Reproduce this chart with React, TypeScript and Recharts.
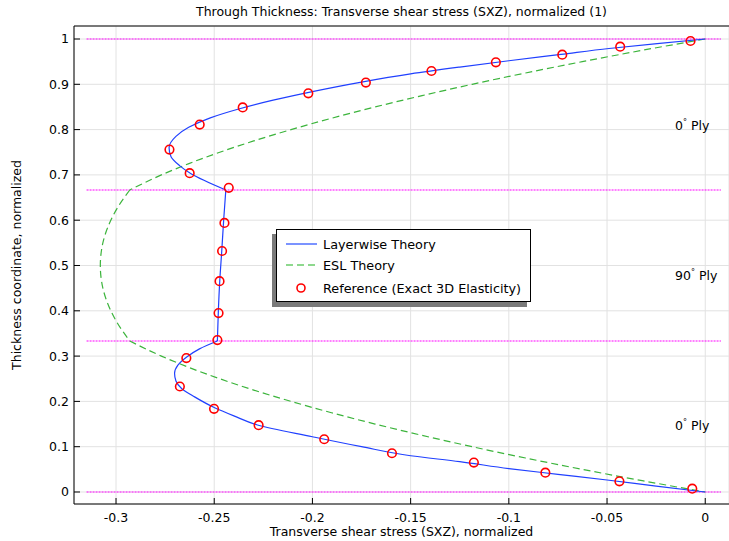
import { ComposedChart, Line, Scatter, XAxis, YAxis, CartesianGrid } from 'recharts';

const xTicks = [-0.3, -0.25, -0.2, -0.15, -0.1, -0.05, 0];
const yTicks = [0, 0.1, 0.2, 0.3, 0.4, 0.5, 0.6, 0.7, 0.8, 0.9, 1];

// Layerwise theory, one array per ply (top ply first), points ordered top -> bottom
const layerwiseTop = [
  { x: 0, y: 1 },
  { x: -0.0245, y: 0.99 },
  { x: -0.049, y: 0.979 },
  { x: -0.0735, y: 0.966 },
  { x: -0.1, y: 0.952 },
  { x: -0.125, y: 0.938 },
  { x: -0.15, y: 0.923 },
  { x: -0.175, y: 0.905 },
  { x: -0.2, y: 0.884 },
  { x: -0.22, y: 0.865 },
  { x: -0.238, y: 0.845 },
  { x: -0.252, y: 0.826 },
  { x: -0.263, y: 0.805 },
  { x: -0.2695, y: 0.785 },
  { x: -0.273, y: 0.76 },
  { x: -0.272, y: 0.74 },
  { x: -0.2675, y: 0.72 },
  { x: -0.262, y: 0.703 },
  { x: -0.2441, y: 0.6667 },
];
const layerwiseMid = [
  { x: -0.2441, y: 0.6667 },
  { x: -0.2452, y: 0.6 },
  { x: -0.2462, y: 0.53 },
  { x: -0.2472, y: 0.465 },
  { x: -0.2479, y: 0.4 },
  { x: -0.2484, y: 0.3333 },
];
const layerwiseBottom = [
  { x: -0.2484, y: 0.3333 },
  { x: -0.2575, y: 0.316 },
  { x: -0.264, y: 0.298 },
  { x: -0.2685, y: 0.28 },
  { x: -0.2702, y: 0.262 },
  { x: -0.2695, y: 0.245 },
  { x: -0.2665, y: 0.228 },
  { x: -0.26, y: 0.21 },
  { x: -0.25, y: 0.1865 },
  { x: -0.24, y: 0.168 },
  { x: -0.228, y: 0.148 },
  { x: -0.2, y: 0.122 },
  { x: -0.175, y: 0.1 },
  { x: -0.15, y: 0.08 },
  { x: -0.125, y: 0.067 },
  { x: -0.1, y: 0.0516 },
  { x: -0.075, y: 0.039 },
  { x: -0.05, y: 0.0265 },
  { x: -0.025, y: 0.013 },
  { x: 0, y: 0 },
];

// ESL theory
const eslTop = [
  { x: 0, y: 1 },
  { x: -0.0321, y: 0.975 },
  { x: -0.0626, y: 0.95 },
  { x: -0.0915, y: 0.925 },
  { x: -0.1187, y: 0.9 },
  { x: -0.1442, y: 0.875 },
  { x: -0.1681, y: 0.85 },
  { x: -0.1903, y: 0.825 },
  { x: -0.2109, y: 0.8 },
  { x: -0.2299, y: 0.775 },
  { x: -0.2472, y: 0.75 },
  { x: -0.2629, y: 0.725 },
  { x: -0.2769, y: 0.7 },
  { x: -0.293, y: 0.6667 },
];
const eslMid = [
  { x: -0.293, y: 0.6667 },
  { x: -0.2996, y: 0.625 },
  { x: -0.3043, y: 0.5833 },
  { x: -0.3067, y: 0.55 },
  { x: -0.308, y: 0.5 },
  { x: -0.3067, y: 0.45 },
  { x: -0.3043, y: 0.4167 },
  { x: -0.2996, y: 0.375 },
  { x: -0.293, y: 0.3333 },
];
const eslBottom = [
  { x: -0.293, y: 0.3333 },
  { x: -0.2769, y: 0.3 },
  { x: -0.2629, y: 0.275 },
  { x: -0.2472, y: 0.25 },
  { x: -0.2299, y: 0.225 },
  { x: -0.2109, y: 0.2 },
  { x: -0.1903, y: 0.175 },
  { x: -0.1681, y: 0.15 },
  { x: -0.1442, y: 0.125 },
  { x: -0.1187, y: 0.1 },
  { x: -0.0915, y: 0.075 },
  { x: -0.0626, y: 0.05 },
  { x: -0.0321, y: 0.025 },
  { x: 0, y: 0 },
];

// Reference (exact 3D elasticity)
const referencePoints = [
  { x: -0.0075, y: 0.9956 },
  { x: -0.0433, y: 0.983 },
  { x: -0.0728, y: 0.9654 },
  { x: -0.1066, y: 0.9485 },
  { x: -0.1394, y: 0.9294 },
  { x: -0.1728, y: 0.9037 },
  { x: -0.2021, y: 0.88 },
  { x: -0.2355, y: 0.849 },
  { x: -0.2574, y: 0.811 },
  { x: -0.2728, y: 0.756 },
  { x: -0.2625, y: 0.7037 },
  { x: -0.2426, y: 0.6715 },
  { x: -0.2448, y: 0.594 },
  { x: -0.246, y: 0.532 },
  { x: -0.2473, y: 0.4654 },
  { x: -0.2478, y: 0.3949 },
  { x: -0.2484, y: 0.3353 },
  { x: -0.2642, y: 0.2956 },
  { x: -0.2675, y: 0.2329 },
  { x: -0.2501, y: 0.1835 },
  { x: -0.2274, y: 0.1474 },
  { x: -0.194, y: 0.1164 },
  { x: -0.1595, y: 0.0855 },
  { x: -0.1178, y: 0.0649 },
  { x: -0.0814, y: 0.0427 },
  { x: -0.0437, y: 0.0236 },
  { x: -0.0066, y: 0.0074 },
];

// ply interfaces (dotted magenta) and their horizontal extent
const plyInterfaces = [0, 1 / 3, 2 / 3, 1];
const interfaceSpan = [-0.315, 0.008];

const plyLabels = [
  { angle: '0', top: 126 },
  { angle: '90', top: 276 },
  { angle: '0', top: 426 },
];

const font = '"DejaVu Sans", sans-serif';
const blue = '#2040ff';
const green = '#3cb43c';
const red = '#ff0000';

const RefCircle = (props: any) => (
  <circle cx={props.cx} cy={props.cy} r={4.3} fill="none" stroke={red} strokeWidth={1.6} />
);

export default function App() {
  const interfaceLines = plyInterfaces.map((v) => interfaceSpan.map((x) => ({ x, y: v })));
  const tickStyle = { fill: '#000', fontSize: 12.5, fontFamily: font };

  return (
    <div style={{ position: 'absolute', left: 0, top: 0, width: 729, height: 541, background: '#fff', fontFamily: font, overflow: 'hidden' }}>
      <ComposedChart width={729} height={541} margin={{ top: 25, right: 0, bottom: 0, left: 0 }}>
        <CartesianGrid stroke="#e2e2e2" />
        <XAxis
          xAxisId="top"
          orientation="top"
          type="number"
          dataKey="x"
          domain={[-0.3214, 0.0121]}
          allowDataOverflow
          ticks={xTicks}
          height={1}
          tick={false}
          tickSize={-6}
          stroke="#000"
        />
        <XAxis
          type="number"
          dataKey="x"
          domain={[-0.3214, 0.0121]}
          allowDataOverflow
          ticks={xTicks}
          height={37}
          tickSize={-6}
          tickMargin={15}
          tick={tickStyle}
          stroke="#000"
        />
        <YAxis
          type="number"
          dataKey="y"
          domain={[-0.0265, 1.0287]}
          allowDataOverflow
          ticks={yTicks}
          width={74}
          tickSize={-6}
          tickMargin={11}
          tick={tickStyle}
          stroke="#000"
        />
        {interfaceLines.map((d, i) => (
          <Line
            key={`ply-${i}`}
            data={d}
            dataKey="y"
            type="linear"
            stroke="#ff00ff"
            strokeWidth={1.2}
            strokeDasharray="2 1"
            dot={false}
            activeDot={false}
            isAnimationActive={false}
          />
        ))}
        {[eslTop, eslMid, eslBottom].map((d, i) => (
          <Line
            key={`esl-${i}`}
            data={d}
            dataKey="y"
            type="monotoneY"
            stroke={green}
            strokeWidth={1.2}
            strokeDasharray="7 4"
            dot={false}
            activeDot={false}
            isAnimationActive={false}
          />
        ))}
        {[layerwiseTop, layerwiseMid, layerwiseBottom].map((d, i) => (
          <Line
            key={`lw-${i}`}
            data={d}
            dataKey="y"
            type="monotoneY"
            stroke={blue}
            strokeWidth={1.2}
            dot={false}
            activeDot={false}
            isAnimationActive={false}
          />
        ))}
        <Scatter data={referencePoints} dataKey="y" shape={RefCircle} isAnimationActive={false} />
      </ComposedChart>

      <div style={{ position: 'absolute', left: 74, width: 655, top: 4, textAlign: 'center', fontSize: 12.5, color: '#000' }}>
        Through Thickness: Transverse shear stress (SXZ), normalized (1)
      </div>
      <div style={{ position: 'absolute', left: 74, width: 655, top: 524, textAlign: 'center', fontSize: 12.5, lineHeight: '15px', color: '#000' }}>
        Transverse shear stress (SXZ), normalized
      </div>
      <div
        style={{
          position: 'absolute',
          left: 16,
          top: 265,
          transform: 'translate(-50%, -50%) rotate(-90deg)',
          whiteSpace: 'nowrap',
          fontSize: 12.5,
          color: '#000',
        }}
      >
        Thickness coordinate, normalized
      </div>

      {plyLabels.map((p, i) => (
        <div key={i} style={{ position: 'absolute', left: 675, top: p.top - 8, fontSize: 12.5, lineHeight: '16px', color: '#000' }}>
          {p.angle}
          <sup style={{ fontSize: 8, verticalAlign: 'top', lineHeight: '10px' }}>°</sup> Ply
        </div>
      ))}

      <div style={{ position: 'absolute', left: 272, top: 234, width: 255, height: 73, background: '#7a7a7a' }} />
      <div
        style={{
          position: 'absolute',
          left: 276,
          top: 229,
          width: 253,
          height: 71,
          border: '1px solid #000',
          background: '#fff',
          fontSize: 12.8,
          color: '#000',
        }}
      >
        <div style={{ position: 'absolute', left: 8, top: 6, display: 'flex', alignItems: 'center', height: 16 }}>
          <svg width={32} height={10}>
            <line x1={1} y1={5} x2={32} y2={5} stroke="#5a78ff" strokeWidth={1.6} />
          </svg>
          <span style={{ marginLeft: 6 }}>Layerwise Theory</span>
        </div>
        <div style={{ position: 'absolute', left: 8, top: 27, display: 'flex', alignItems: 'center', height: 16 }}>
          <svg width={32} height={10}>
            <line x1={1} y1={5} x2={32} y2={5} stroke="#6acc6a" strokeWidth={1.6} strokeDasharray="7 4" />
          </svg>
          <span style={{ marginLeft: 6 }}>ESL Theory</span>
        </div>
        <div style={{ position: 'absolute', left: 8, top: 50, display: 'flex', alignItems: 'center', height: 16 }}>
          <svg width={32} height={12}>
            <circle cx={16} cy={6} r={4} fill="none" stroke={red} strokeWidth={1.6} />
          </svg>
          <span style={{ marginLeft: 6 }}>Reference (Exact 3D Elasticity)</span>
        </div>
      </div>
    </div>
  );
}
